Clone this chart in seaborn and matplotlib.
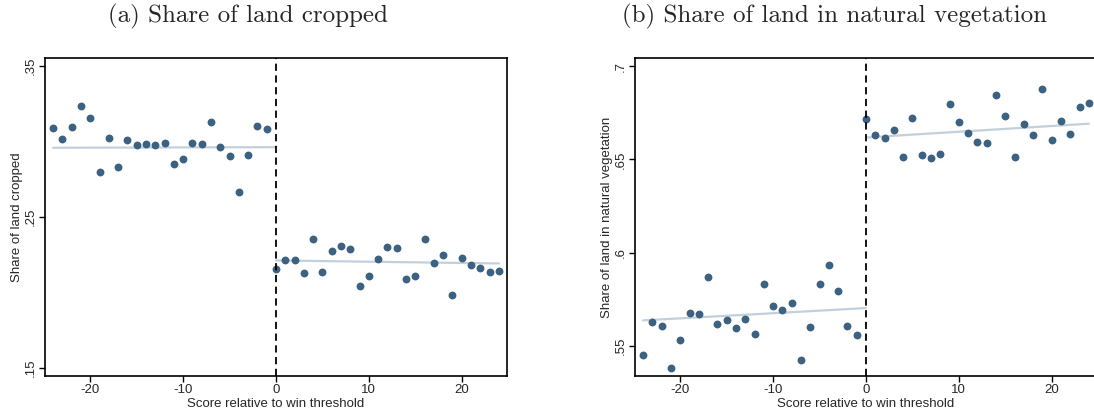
import numpy as np
import pandas as pd
import matplotlib
matplotlib.use("Agg")
import matplotlib.pyplot as plt
import seaborn as sns

# ---- data ----
score = list(range(-24, 25))

cropped = [0.3089, 0.3016, 0.3093, 0.3235, 0.3157, 0.2797, 0.3020, 0.2832,
           0.3007, 0.2976, 0.2982, 0.2974, 0.2987, 0.2850, 0.2881, 0.2987,
           0.2982, 0.3126, 0.2960, 0.2901, 0.2666, 0.2907, 0.3102, 0.3084,
           0.2155, 0.2211, 0.2213, 0.2128, 0.2354, 0.2133, 0.2272, 0.2308,
           0.2290, 0.2040, 0.2107, 0.2222, 0.2301, 0.2294, 0.2089, 0.2111,
           0.2352, 0.2195, 0.2244, 0.1980, 0.2224, 0.2181, 0.2164, 0.2133,
           0.2138]

natveg = [0.5450, 0.5627, 0.5609, 0.5382, 0.5530, 0.5677, 0.5671, 0.5872,
          0.5616, 0.5641, 0.5596, 0.5644, 0.5564, 0.5830, 0.5714, 0.5691,
          0.5732, 0.5424, 0.5601, 0.5830, 0.5934, 0.5797, 0.5609, 0.5561,
          0.6716, 0.6630, 0.6616, 0.6658, 0.6510, 0.6721, 0.6523, 0.6506,
          0.6528, 0.6796, 0.6700, 0.6639, 0.6594, 0.6585, 0.6846, 0.6734,
          0.6515, 0.6687, 0.6633, 0.6875, 0.6601, 0.6705, 0.6637, 0.6782,
          0.6803]

# linear fits (endpoints), left and right of threshold
fit_x_left = [-24, 0]
fit_x_right = [0, 24]
fit_cropped_left = [0.2958, 0.2962]
fit_cropped_right = [0.2211, 0.2191]
fit_natveg_left = [0.5637, 0.5703]
fit_natveg_right = [0.6617, 0.6691]

titles = ["(a) Share of land cropped", "(b) Share of land in natural vegetation"]
ylabels = ["Share of land cropped", "Share of land in natural vegetation"]
xlabel = "Score relative to win threshold"
yticks_a = [0.15, 0.25, 0.35]
ytick_labels_a = [".15", ".25", ".35"]
yticks_b = [0.55, 0.6, 0.65, 0.7]
ytick_labels_b = [".55", ".6", ".65", ".7"]
xticks = [-20, -10, 0, 10, 20]

sns.set_theme(style="white")
plt.rcParams['font.family'] = ['Liberation Sans', 'DejaVu Sans']

dot_color = "#3d6180"
fit_color = "#c2d0dc"

fig = plt.figure(figsize=(10.94, 4.15), dpi=100)
W, H = 1094, 415
ax1 = fig.add_axes([45 / W, (H - 376) / H, 462 / W, (376 - 58) / H])
ax2 = fig.add_axes([635 / W, (H - 376) / H, 462 / W, (376 - 58) / H])

df = pd.DataFrame({"score": score, "cropped": cropped, "natveg": natveg})

configs = [
    (ax1, "cropped", (0.1445, 0.3553), yticks_a, ytick_labels_a,
     fit_cropped_left, fit_cropped_right),
    (ax2, "natveg", (0.5339, 0.7043), yticks_b, ytick_labels_b,
     fit_natveg_left, fit_natveg_right),
]
for i, (ax, col, ylim, yt, ytl, fl, fr) in enumerate(configs):
    sns.lineplot(x=fit_x_left, y=fl, ax=ax, color=fit_color, lw=1.6, zorder=2)
    sns.lineplot(x=fit_x_right, y=fr, ax=ax, color=fit_color, lw=1.6, zorder=2)
    sns.scatterplot(data=df, x="score", y=col, ax=ax, color=dot_color, s=32,
                    linewidth=0, zorder=3)
    ax.axvline(0, color="black", lw=1.3, ls=(0, (4, 2.5)), zorder=4)
    ax.set_xlim(-24.87, 24.87)
    ax.set_ylim(*ylim)
    ax.set_xticks(xticks)
    ax.set_xticklabels([str(t) for t in xticks], fontsize=9.5)
    ax.set_yticks(yt)
    ax.set_yticklabels(ytl, fontsize=9.5, rotation=90, va="center")
    ax.tick_params(axis="both", direction="out", length=4, width=1, color="black",
                   bottom=True, left=True, pad=2)
    ax.set_xlabel(xlabel, fontsize=9.5, labelpad=1)
    ax.set_ylabel(ylabels[i], fontsize=9.5, labelpad=1.5)
    for sp in ax.spines.values():
        sp.set_color("black")
        sp.set_linewidth(1.2)
    ax.grid(False)

fig.text(108 / W, 1 - 16 / H, titles[0], ha="left", va="center",
         fontsize=18, family="cmr10")
fig.text(622 / W, 1 - 16 / H, titles[1], ha="left", va="center",
         fontsize=18, family="cmr10")

fig.savefig("out.png", dpi=100)
